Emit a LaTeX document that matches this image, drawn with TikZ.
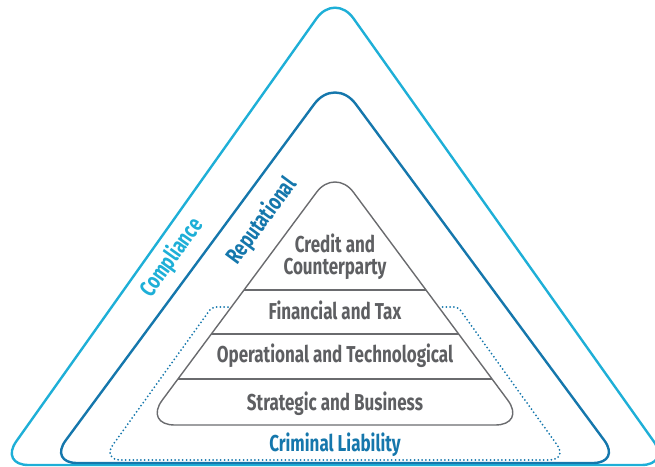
\documentclass[tikz,border=0pt]{standalone}
\usepackage{fontspec}
\usetikzlibrary{calc}
\setmainfont{Fira Sans}
\newfontfamily\riskfont{Fira Sans Bold}[FakeStretch=0.74]
\definecolor{compblue}{HTML}{1EAFD7}
\definecolor{repblue}{HTML}{1577AC}
\definecolor{pyrgray}{HTML}{6A6B6E}
\definecolor{txtgray}{HTML}{5E5F62}

\begin{document}
\begin{tikzpicture}[x=1pt,y=-1pt,
  ring/.style={line width=2.4pt, line join=round},
  pyramid/.style={draw=pyrgray, line width=1.4pt},
  layer/.style={font=\riskfont\fontsize{23}{22}\selectfont, text=txtgray,
    inner sep=0pt, anchor=base, align=center},
  ringlabel/.style={font=\riskfont\fontsize{23}{22}\selectfont,
    inner sep=0pt, rotate=#1}]
  \useasboundingbox (0,0) rectangle (655,466);
  \clip (0,0) rectangle (655,466);

  % corner points of the three triangles
  \coordinate (c-top) at (335,-7.6);
  \coordinate (c-bl) at (-0.5,465);
  \coordinate (c-br) at (670.5,465);
  \coordinate (r-top) at (335,76);
  \coordinate (r-bl) at (49,463);
  \coordinate (r-br) at (621,463);
  \coordinate (p-top) at (335,167.4);
  \coordinate (p-bl) at (143.8,425);
  \coordinate (p-br) at (526.2,425);

  % compliance and reputational
  \draw[ring, compblue] ($(c-bl)!0.5!(c-br)$) [rounded corners=29pt] -- (c-br)
    [rounded corners=32pt] -- (c-top) [rounded corners=29pt] -- (c-bl) -- cycle;
  \draw[ring, repblue] ($(r-bl)!0.5!(r-br)$) [rounded corners=28pt] -- (r-br)
    [rounded corners=35pt] -- (r-top) [rounded corners=28pt] -- (r-bl) -- cycle;

  % criminal liability
  \coordinate (cl-a) at (228,307);
  \coordinate (cl-b) at (212,307);
  \coordinate (cl-c) at (102,460);
  \coordinate (cl-d) at (568,460);
  \coordinate (cl-e) at (458,307);
  \coordinate (cl-f) at (442,307);
  \draw[repblue, line width=2pt, line cap=round, dash pattern=on 0pt off 3.8pt]
    (cl-a) [rounded corners=4pt] -- (cl-b) [rounded corners=19pt] -- (cl-c)
    -- (cl-d) [rounded corners=4pt] -- (cl-e) -- (cl-f);

  % the pyramid
  \draw[pyramid, rounded corners=31pt] ($(p-bl)!0.5!(p-br)$) -- (p-br)
    -- (p-top) -- (p-bl) -- cycle;
  \foreach \t/\n in {0.476/1, 0.647/2, 0.821/3} {
    \coordinate (s\n-l) at ($(p-top)!\t!(p-bl)$);
    \coordinate (s\n-r) at ($(p-top)!\t!(p-br)$);
    \draw[pyramid] (s\n-l) -- (s\n-r);
  }

  \node[layer] (credit) at (335,274) {Credit and\\Counterparty};
  \node[layer] (financial) at (335,319) {Financial and Tax};
  \node[layer] (operational) at (335,362) {Operational and Technological};
  \node[layer] (strategic) at (335,410) {Strategic and Business};
  \node[layer, text=repblue] (criminal) at (335,451) {Criminal Liability};

  \node[ringlabel=54.5, text=compblue] (compliance) at (172,258) {Compliance};
  \node[ringlabel=53.5, text=repblue] (reputational) at (262,221) {Reputational};
\end{tikzpicture}
\end{document}
